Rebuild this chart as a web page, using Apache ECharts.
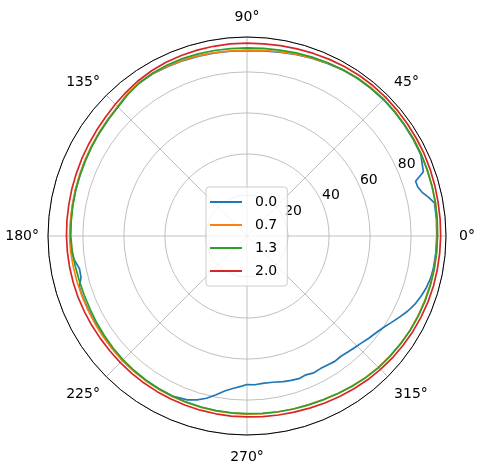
<!DOCTYPE html>
<html>
<head>
<meta charset="utf-8">
<script src="https://cdn.jsdelivr.net/npm/echarts@6/dist/echarts.min.js"></script>
<style>
  html, body { margin: 0; padding: 0; background: #fff; }
  #main { width: 478px; height: 472px; }
</style>
</head>
<body>
<div id="main"></div>
<script>
// angle steps shared by 0.7 / 1.3 / 2.0
var angles = [0,5,10,15,20,25,30,35,40,45,50,55,60,65,70,75,80,85,90,95,100,105,110,115,120,125,130,135,140,145,150,155,160,165,170,175,180,185,190,195,200,205,210,215,220,225,230,235,240,245,250,255,260,265,270,275,280,285,290,295,300,305,310,315,320,325,330,335,340,345,350,355,360];

var r07 = [92.8,93.0,93.2,93.4,93.5,93.8,94.0,94.0,94.2,94.3,94.2,94.0,93.6,93.0,92.4,91.8,91.2,90.8,90.6,90.6,90.8,91.0,91.2,91.4,91.6,91.4,90.6,89.2,88.5,88.0,87.6,87.2,86.9,86.7,86.5,86.4,86.5,86.3,86.0,85.8,85.6,85.5,85.5,85.6,85.7,85.9,86.0,86.1,86.2,86.3,86.4,86.5,86.6,86.7,86.8,86.9,87.1,87.3,87.6,88.0,88.6,89.3,90.0,90.6,91.0,91.4,91.8,92.0,92.2,92.4,92.6,92.7,92.8];

var r13 = [92.9,93.1,93.3,93.4,93.6,93.8,93.9,94.0,94.1,94.1,94.0,93.9,93.6,93.2,92.8,92.4,92.0,91.8,91.7,91.7,91.8,91.9,92.0,92.0,91.8,91.2,90.2,89.0,88.3,87.8,87.3,86.9,86.6,86.4,86.2,86.0,85.9,85.5,85.0,84.6,84.4,84.4,84.6,84.8,85.1,85.4,85.6,85.8,86.0,86.1,86.2,86.3,86.4,86.5,86.6,86.8,87.0,87.3,87.6,88.1,88.7,89.4,90.1,90.7,91.1,91.5,91.9,92.2,92.4,92.6,92.7,92.8,92.9];

var r20 = [94.4,94.5,94.6,94.8,95.0,95.2,95.3,95.4,95.5,95.6,95.6,95.5,95.3,95.0,94.7,94.4,94.2,94.0,94.0,94.0,93.9,93.8,93.6,93.4,93.0,92.4,91.6,90.8,90.1,89.6,89.2,88.9,88.6,88.4,88.2,88.1,88.0,87.9,87.8,87.7,87.6,87.4,87.3,87.2,87.2,87.3,87.4,87.5,87.6,87.7,87.8,87.9,88.0,88.1,88.2,88.4,88.6,88.9,89.3,89.8,90.3,90.9,91.5,92.0,92.5,92.9,93.3,93.6,93.9,94.1,94.2,94.3,94.4];

// 0.0 has its own angles (notch near 15deg, dip in the lower half)
var angles00 = [0,5,10,12,14,16,18,20,25,30,35,40,45,50,55,60,65,70,75,80,85,90,95,100,105,110,115,120,125,130,135,140,145,150,155,160,165,170,175,180,185,188,191,194,197,200,205,210,215,220,225,230,235,240,245,250,253,256,259,262,265,268,270,273,276,280,284,287,290,293,296,299,302,305,308,311,314,317,320,323,326,329,332,335,338,341,344,347,350,355,360];
var r00 = [92.5,92.7,92.8,90.5,88.0,86.6,86.4,91.5,93.5,93.7,93.8,94.0,94.1,94.0,93.8,93.4,92.8,92.2,91.6,91.0,90.6,90.4,90.4,90.6,90.8,91.0,91.2,91.4,91.2,90.4,89.0,88.3,87.8,87.4,87.0,86.7,86.5,86.3,86.2,86.3,86.1,84.9,83.2,83.4,85.4,85.4,85.3,85.3,85.4,85.5,85.7,85.8,85.9,86.0,86.1,85.0,83.5,81.5,78.8,76.2,74.5,73.2,72.4,72.6,72.2,72.4,73.2,73.6,74.0,73.5,74.2,73.9,74.1,74.6,74.4,74.9,75.6,76.4,77.5,78.6,80.0,82.0,84.2,86.5,88.4,89.8,91.0,91.8,92.2,92.4,92.5];

var names = ['0.0', '0.7', '1.3', '2.0'];
var colors = ['#1f77b4', '#ff7f0e', '#2ca02c', '#d62728'];
var radiusTicks = [20, 40, 60, 80];
var rMax = 97;

function pairs(rs, as) {
  var out = [];
  for (var i = 0; i < rs.length; i++) out.push([rs[i], as[i]]);
  return out;
}

var seriesData = [pairs(r00, angles00), pairs(r07, angles), pairs(r13, angles), pairs(r20, angles)];

var chart = echarts.init(document.getElementById('main'), null, { renderer: 'canvas' });
var font = 'DejaVu Sans';

// small nudges so the angle labels sit like matplotlib's
var lab = function (pad, w, al) {
  var s = { padding: pad, fontSize: 14, color: '#000', fontFamily: font };
  if (w) { s.width = w; s.align = al; }
  return s;
};

chart.setOption({
  backgroundColor: '#fff',
  animation: false,
  textStyle: { fontFamily: font },
  polar: [
    { center: [247, 236], radius: 199 },
    { center: [247, 236], radius: 199 }
  ],
  angleAxis: [{
    polarIndex: 0,
    type: 'value', min: 0, max: 360, interval: 45,
    startAngle: 0, clockwise: false,
    axisLine: { lineStyle: { color: '#000', width: 1 } },
    axisTick: { show: false },
    axisLabel: {
      margin: 9, color: '#000', fontSize: 14, fontFamily: font,
      align: 'center', verticalAlign: 'middle',
      formatter: function (v) { return v === 360 ? '' : '{a' + v + '|' + v + '°}'; },
      rich: {
        a0: lab([0, 0, 0, 0], 20, 'right'),
        a45: lab([0, 0, 0, 0], 40, 'left'),
        a90: lab([0, 0, 4, 0]),
        a135: lab([0, 0, 0, 0], 46, 'right'),
        a180: lab([0, 0, 0, 0], 42, 'right'),
        a225: lab([4, 0, 0, 0], 46, 'right'),
        a270: lab([6, 0, 0, 0]),
        a315: lab([4, 0, 0, 0], 48, 'left')
      }
    },
    splitLine: { lineStyle: { color: '#b0b0b0', width: 0.8 } }
  }, {
    polarIndex: 1,
    type: 'value', min: 0, max: 360,
    startAngle: 22.5, clockwise: false, show: false
  }],
  radiusAxis: [{
    polarIndex: 0,
    type: 'value', min: 0, max: rMax, interval: 20,
    axisLine: { show: false },
    axisTick: { show: false },
    axisLabel: { show: false },
    splitLine: { lineStyle: { color: '#b0b0b0', width: 0.8 } }
  }, {
    polarIndex: 1,
    type: 'value', min: 0, max: rMax, interval: 20,
    axisLine: { show: false },
    axisTick: { show: false },
    splitLine: { show: false },
    axisLabel: {
      margin: 2, color: '#000', fontSize: 14, fontFamily: font,
      align: 'left', verticalAlign: 'bottom',
      formatter: function (v) { return radiusTicks.indexOf(v) >= 0 ? String(v) : ''; }
    }
  }],
  legend: {
    data: names,
    orient: 'vertical',
    left: 206, top: 187,
    icon: 'rect',
    itemWidth: 32, itemHeight: 2, itemGap: 7,
    padding: [7, 10, 7, 4],
    backgroundColor: 'rgba(255,255,255,0.8)',
    borderColor: '#cccccc', borderWidth: 1, borderRadius: 3,
    textStyle: { fontSize: 14, color: '#000', fontFamily: font, padding: [0, 0, 0, 8], lineHeight: 16 }
  },
  series: names.map(function (n, i) {
    return {
      name: n, type: 'line', coordinateSystem: 'polar', polarIndex: 0,
      data: seriesData[i],
      symbol: 'none', smooth: false,
      lineStyle: { color: colors[i], width: 1.7 },
      itemStyle: { color: colors[i] }
    };
  })
});
</script>
</body>
</html>
